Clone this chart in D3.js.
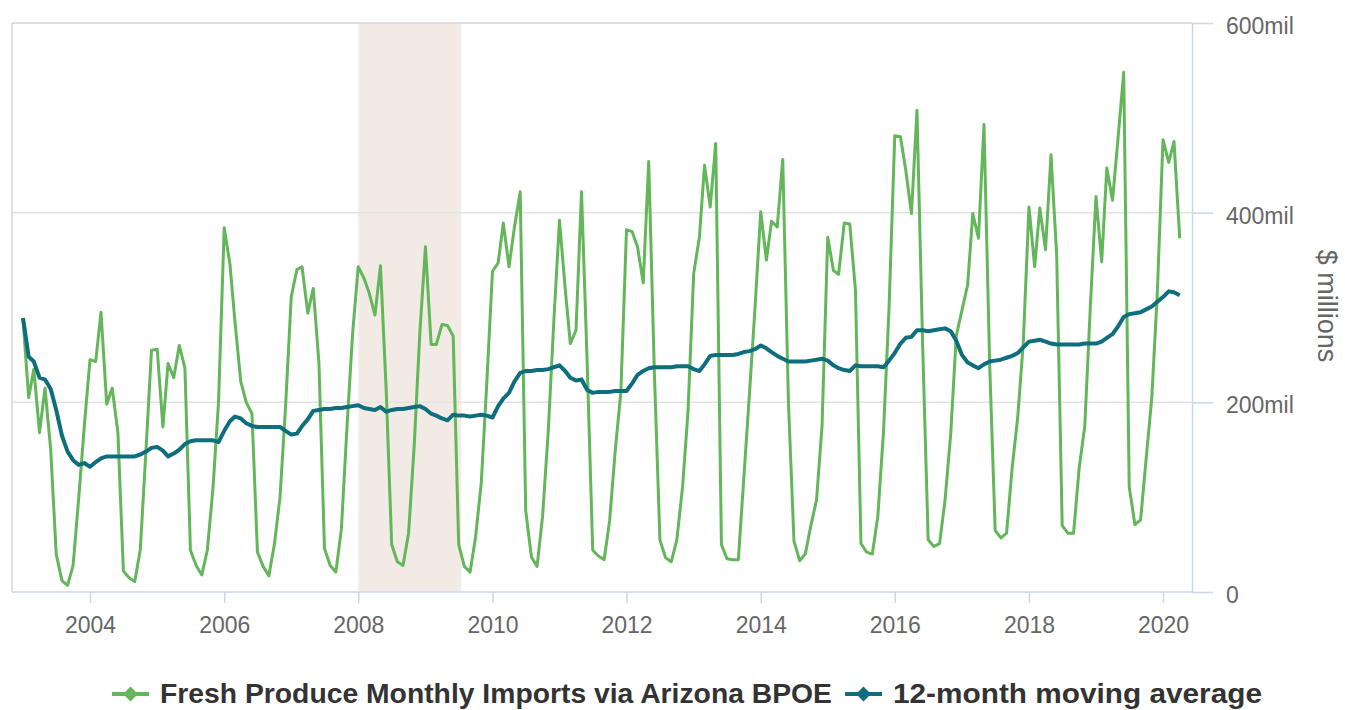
<!DOCTYPE html>
<html>
<head>
<meta charset="utf-8">
<script src="https://cdn.jsdelivr.net/npm/d3@7"></script>
<style>
  body { margin: 0; background: #fff; }
  svg text { font-family: "Liberation Sans", Arial, sans-serif; }
</style>
</head>
<body>
<svg id="chart"></svg>
<script>
// monthly values, Jan 2003 - Apr 2020 ($ millions)
var imports = [
  288, 205, 235, 168, 215, 150, 40, 12, 7, 28, 100, 175,      // 2003
  245, 243, 295, 198, 215, 168, 22, 15, 11, 45, 150, 255,     // 2004
  256, 174, 241, 226, 260, 236, 44, 28, 18, 44, 110, 200,     // 2005
  384, 346, 284, 222, 200, 188, 42, 27, 17, 50, 100, 195,     // 2006
  311, 340, 343, 294, 320, 241, 46, 28, 21, 66, 175, 272,     // 2007
  343, 331, 315, 292, 344, 214, 50, 32, 28, 62, 155, 272,     // 2008
  364, 261, 261, 282, 281, 270, 50, 27, 21, 58, 115, 220,     // 2009
  338, 347, 389, 343, 385, 422, 86, 37, 27, 80, 170, 285,     // 2010
  392, 320, 262, 276, 422, 240, 44, 38, 34, 75, 150, 210,     // 2011
  382, 380, 364, 326, 454, 230, 55, 36, 32, 55, 110, 190,     // 2012
  336, 374, 450, 406, 473, 50, 35, 34, 34, 120, 210, 300,     // 2013
  401, 350, 391, 385, 456, 200, 54, 33, 40, 70, 97, 175,      // 2014
  374, 339, 335, 389, 388, 318, 51, 42, 40, 80, 170, 300,     // 2015
  481, 480, 445, 399, 508, 260, 55, 48, 51, 97, 167, 270,     // 2016
  297, 324, 399, 373, 493, 240, 65, 57, 62, 130, 185, 263,    // 2017
  406, 343, 405, 361, 461, 355, 70, 62, 62, 130, 175, 300,    // 2018
  417, 348, 447, 413, 478, 548, 111, 71, 76, 140, 205, 315,   // 2019
  477, 453, 475, 373                                          // 2020
];

var movingAvg = [
  289, 248, 243, 226, 224, 214, 192, 165, 148, 139, 134, 136,
  132, 137, 141, 143, 143, 143, 143, 143, 143, 145, 148, 152,
  153, 149, 143, 146, 150, 156, 159, 160, 160, 160, 160, 158,
  170, 180, 185, 183, 178, 175, 174, 174, 174, 174, 174, 170,
  166, 167, 175, 182, 191, 192, 193, 193, 194, 194, 195, 196,
  197, 194, 193, 192, 195, 190, 192, 193, 193, 194, 195, 196,
  193, 188, 186, 183, 181, 187, 186, 186, 185, 186, 187, 186,
  184, 196, 204, 210, 222, 231, 233, 233, 234, 234, 235, 237,
  239, 233, 226, 223, 224, 213, 210, 211, 211, 211, 212, 212,
  212, 220, 229, 233, 236, 237, 237, 237, 237, 238, 238, 238,
  235, 233, 240, 249, 250, 250, 250, 250, 251, 253, 254, 256,
  260, 257, 253, 249, 246, 243, 243, 243, 243, 244, 245, 246,
  244, 239, 236, 234, 233, 239, 238, 238, 238, 238, 237, 244,
  252, 262, 268, 269, 276, 276, 275, 276, 277, 278, 275, 265,
  250, 242, 239, 236, 240, 243, 244, 245, 247, 249, 252, 258,
  264, 265, 266, 264, 262, 261, 261, 261, 261, 261, 262, 262,
  262, 264, 268, 272, 280, 290, 293, 294, 295, 298, 301, 306,
  311, 317, 316, 313
];

var months = d3.timeMonth.range(new Date(2003, 0, 1), new Date(2020, 4, 1));
var xTickYears = [2004, 2006, 2008, 2010, 2012, 2014, 2016, 2018, 2020];
var yTicks = [0, 200, 400, 600];
var yTickLabels = ["0", "200mil", "400mil", "600mil"];
var recession = [new Date(2008, 0, 1), new Date(2009, 6, 15)];
var seriesNames = ["Fresh Produce Monthly Imports via Arizona BPOE", "12-month moving average"];

var width = 1345, height = 710;
var plotLeft = 12, plotRight = 1192, plotTop = 23, plotBottom = 592;
var green = "#63b65a", teal = "#0f6e7e";

var svg = d3.select("#chart")
  .attr("width", width)
  .attr("height", height);

var x = d3.scaleTime()
  .domain([new Date(2004, 0, 1), new Date(2020, 0, 1)])
  .range([90, 1163]);

var y = d3.scaleLinear()
  .domain([0, 600])
  .range([plotBottom, plotTop]);

// recession band
svg.append("rect")
  .attr("x", x(recession[0]))
  .attr("y", plotTop)
  .attr("width", x(recession[1]) - x(recession[0]))
  .attr("height", plotBottom - plotTop)
  .attr("fill", "#f2ebe5");

// gridlines
svg.selectAll(".grid")
  .data(yTicks.slice(1))
  .enter().append("line")
  .attr("x1", plotLeft)
  .attr("x2", plotRight)
  .attr("y1", function(d) { return y(d); })
  .attr("y2", function(d) { return y(d); })
  .attr("stroke", function(d) { return d === 600 ? "#d4d4d4" : "#e3e3e3"; })
  .attr("stroke-width", 1.5);

// left border
svg.append("line")
  .attr("x1", plotLeft).attr("x2", plotLeft)
  .attr("y1", plotTop).attr("y2", plotBottom)
  .attr("stroke", "#d4d4d4")
  .attr("stroke-width", 1.5);

// x axis
var xAxis = svg.append("g")
  .attr("transform", "translate(0," + plotBottom + ")")
  .call(d3.axisBottom(x)
    .tickValues(xTickYears.map(function(d) { return new Date(d, 0, 1); }))
    .tickFormat(d3.timeFormat("%Y"))
    .tickSize(11)
    .tickSizeOuter(0)
    .tickPadding(14));
xAxis.select(".domain")
  .attr("d", "M" + plotLeft + ",0H" + plotRight)
  .attr("stroke", "#ccd6eb").attr("stroke-width", 1.5);
xAxis.selectAll(".tick line").attr("stroke", "#ccd6eb").attr("stroke-width", 1.5);
xAxis.selectAll(".tick text")
  .attr("fill", "#666")
  .style("font-size", "23px");

// y axis on the right
var yAxis = svg.append("g")
  .attr("transform", "translate(" + plotRight + ",0)")
  .call(d3.axisRight(y)
    .tickValues(yTicks)
    .tickFormat(function(d, i) { return yTickLabels[i]; })
    .tickSize(21)
    .tickSizeOuter(0)
    .tickPadding(13));
yAxis.select(".domain").attr("stroke", "#ccd6eb").attr("stroke-width", 1.5);
yAxis.selectAll(".tick line").attr("stroke", "#ccd6eb").attr("stroke-width", 1.5);
yAxis.selectAll(".tick text")
  .attr("fill", "#666")
  .attr("dy", "0.45em")
  .style("font-size", "23px");

svg.append("text")
  .attr("transform", "translate(1318,306) rotate(90)")
  .attr("text-anchor", "middle")
  .attr("fill", "#666")
  .style("font-size", "27px")
  .text("$ millions");

// lines
var line = d3.line()
  .x(function(d, i) { return x(months[i]); })
  .y(function(d) { return y(d); });

svg.append("path")
  .datum(imports)
  .attr("d", line)
  .attr("fill", "none")
  .attr("stroke", green)
  .attr("stroke-width", 3)
  .attr("stroke-linejoin", "round");

svg.append("path")
  .datum(movingAvg)
  .attr("d", line)
  .attr("fill", "none")
  .attr("stroke", teal)
  .attr("stroke-width", 4)
  .attr("stroke-linejoin", "round");

// legend
var legendY = 694;
var legendItems = [
  { name: seriesNames[0], color: green, x: 112, textX: 160, textLen: 672 },
  { name: seriesNames[1], color: teal, x: 845, textX: 893, textLen: 369 }
];
var legend = svg.selectAll(".legend")
  .data(legendItems)
  .enter().append("g");

legend.append("line")
  .attr("x1", function(d) { return d.x; })
  .attr("x2", function(d) { return d.x + 37; })
  .attr("y1", legendY).attr("y2", legendY)
  .attr("stroke", function(d) { return d.color; })
  .attr("stroke-width", 4);

legend.append("path")
  .attr("d", d3.symbol(d3.symbolSquare, 110))
  .attr("transform", function(d) { return "translate(" + (d.x + 18.5) + "," + legendY + ") rotate(45)"; })
  .attr("fill", function(d) { return d.color; });

legend.append("text")
  .attr("x", function(d) { return d.textX; })
  .attr("y", legendY + 9)
  .attr("textLength", function(d) { return d.textLen; })
  .attr("lengthAdjust", "spacingAndGlyphs")
  .attr("fill", "#333")
  .style("font-size", "27px")
  .style("font-weight", "bold")
  .text(function(d) { return d.name; });
</script>
</body>
</html>
